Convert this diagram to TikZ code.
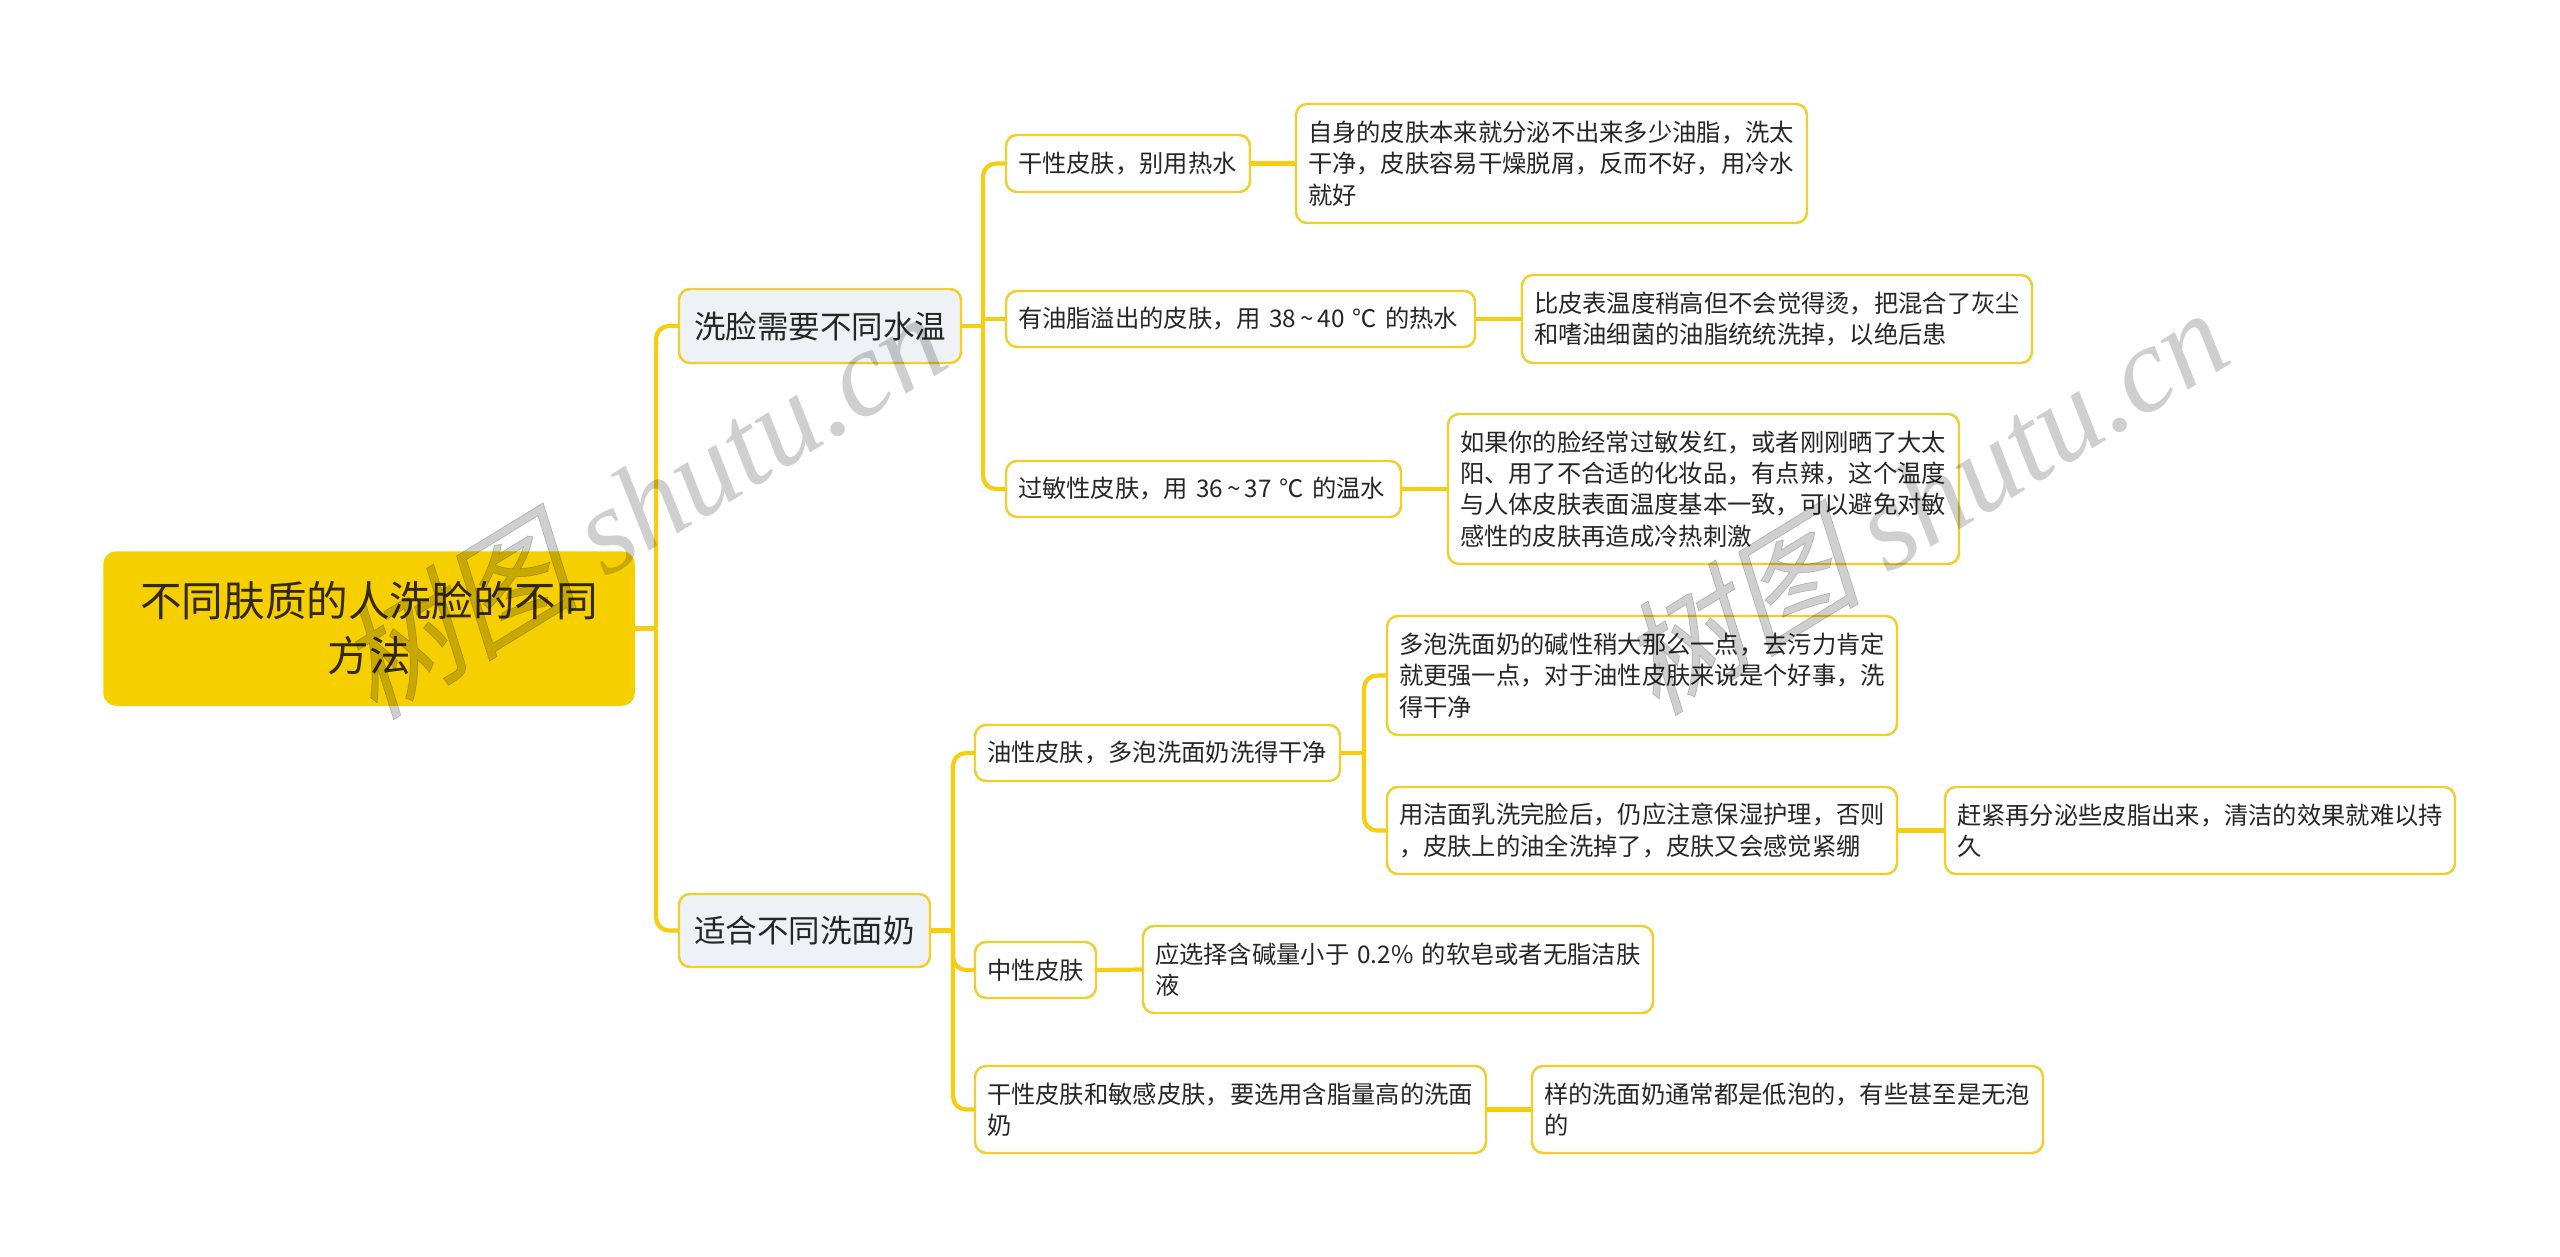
\documentclass[tikz,border=0pt]{standalone}
\usepackage{fontspec}
\setmainfont{Noto Sans CJK SC}
\newfontfamily\wmlatin{Liberation Serif}[ItalicFont=* Italic]
\newfontfamily\wmcjk[FakeSlant=0.25,FakeBold=0.6]{Noto Sans CJK SC}
\definecolor{linecol}{HTML}{F5CF0F}
\definecolor{edgecol}{HTML}{F1CE2A}
\definecolor{rootcol}{HTML}{F6CF00}
\definecolor{topiccol}{HTML}{EEF1F5}
\definecolor{inkcol}{HTML}{262626}
\definecolor{rootink}{HTML}{33290A}
\tikzset{
  rootbox/.style={rounded corners=12,fill=rootcol,draw=rootcol,line width=1.5,text=rootink,align=center,font=\fontsize{41.6}{55}\selectfont},
  topicbox/.style={rounded corners=11,fill=topiccol,draw=edgecol,line width=2.4,text=inkcol,align=center,font=\fontsize{31.5}{40}\selectfont},
  leafbox/.style={rounded corners=11,fill=white,draw=edgecol,line width=2.4,text=inkcol,align=left,font=\fontsize{24.3}{31.3}\selectfont},
  straightlink/.style={draw=linecol,line width=4.2},
  curvedlink/.style={draw=linecol,line width=4.2,rounded corners=13},
  wmark/.style={rotate=31.5,text=black,text opacity=0.19,inner sep=0}
}
% name, x1, y1, x2, y2, style, text
\newcommand{\boxat}[7]{%
  \node[#6,outer sep=0,inner sep=0,minimum width={#4-#2},minimum height={#5-#3},text width={#4-#2-24}]
    (#1) at ({(#2+#4)/2},{(#3+#5)/2}) {#7};}
\newcommand{\wmtext}{\fontsize{122}{122}\selectfont{\wmcjk 树图} {\wmlatin\itshape shutu.cn}}
\begin{document}
\begin{tikzpicture}[x=1pt,y=-1pt]
\useasboundingbox (0,0) rectangle (2560,1257);
\fill[white] (0,0) rectangle (2560,1257);

\boxat{root}{104}{552}{634}{705}{rootbox}{不同肤质的人洗脸的不同\\方法}
\boxat{tA}{679}{289}{961}{363}{topicbox}{洗脸需要不同水温}
\boxat{tB}{679}{894}{930}{967}{topicbox}{适合不同洗面奶}

\boxat{nA}{1006}{135}{1250}{192}{leafbox}{干性皮肤，别用热水}
\boxat{dA}{1296}{104}{1807}{223}{leafbox}{自身的皮肤本来就分泌不出来多少油脂，洗太\\干净，皮肤容易干燥脱屑，反而不好，用冷水\\就好}
\boxat{nB}{1006}{291}{1475}{347}{leafbox}{有油脂溢出的皮肤，用 38\,\textasciitilde\,40 ℃ 的热水}
\boxat{dB}{1522}{275}{2032}{363}{leafbox}{比皮表温度稍高但不会觉得烫，把混合了灰尘\\和嗜油细菌的油脂统统洗掉，以绝后患}
\boxat{nC}{1006}{461}{1401}{517}{leafbox}{过敏性皮肤，用 36\,\textasciitilde\,37 ℃ 的温水}
\boxat{dC}{1448}{414}{1959}{564}{leafbox}{如果你的脸经常过敏发红，或者刚刚晒了大太\\阳、用了不合适的化妆品，有点辣，这个温度\\与人体皮肤表面温度基本一致，可以避免对敏\\感性的皮肤再造成冷热刺激}

\boxat{oA}{975}{725}{1340}{781}{leafbox}{油性皮肤，多泡洗面奶洗得干净}
\boxat{oAa}{1387}{616}{1897}{735}{leafbox}{多泡洗面奶的碱性稍大那么一点，去污力肯定\\就更强一点，对于油性皮肤来说是个好事，洗\\得干净}
\boxat{oAb}{1387}{787}{1897}{874}{leafbox}{用洁面乳洗完脸后，仍应注意保湿护理，否则\\，皮肤上的油全洗掉了，皮肤又会感觉紧绷}
\boxat{oAc}{1945}{787}{2455}{874}{leafbox}{赶紧再分泌些皮脂出来，清洁的效果就难以持\\久}
\boxat{oB}{975}{942}{1096}{998}{leafbox}{中性皮肤}
\boxat{oBa}{1143}{926}{1653}{1013}{leafbox}{应选择含碱量小于 0.2\% 的软皂或者无脂洁肤\\液}
\boxat{oC}{975}{1066}{1486}{1153}{leafbox}{干性皮肤和敏感皮肤，要选用含脂量高的洗面\\奶}
\boxat{oCa}{1532}{1066}{2043}{1153}{leafbox}{样的洗面奶通常都是低泡的，有些甚至是无泡\\的}

\coordinate (jR) at (656,628.5);
\coordinate (jA) at (983,326);
\coordinate (jB) at (953,930.5);
\coordinate (jO) at (1364,753);

\draw[straightlink] (root.east) -- (jR);
\draw[curvedlink] (jR) |- (tA.west);
\draw[curvedlink] (jR) |- (tB.west);
\draw[straightlink] (tA.east) -- (jA);
\draw[curvedlink] (jA) |- (nA.west);
\draw[straightlink] (jA) |- (nB.west);
\draw[curvedlink] (jA) |- (nC.west);
\draw[straightlink] (nA.east) -- (dA.west);
\draw[straightlink] (nB.east) -- (dB.west);
\draw[straightlink] (nC.east) -- (dC.west);
\draw[straightlink] (tB.east) -- (jB);
\draw[curvedlink] (jB) |- (oA.west);
\draw[curvedlink] (jB) |- (oB.west);
\draw[curvedlink] (jB) |- (oC.west);
\draw[straightlink] (oA.east) -- (jO);
\draw[curvedlink] (jO) |- (oAa.west);
\draw[curvedlink] (jO) |- (oAb.west);
\draw[straightlink] (oAb.east) -- (oAc.west);
\draw[straightlink] (oB.east) -- (oBa.west);
\draw[straightlink] (oC.east) -- (oCa.west);

\node[wmark] (wmA) at (640,503) {\wmtext};
\node[wmark] (wmB) at (1922,499) {\wmtext};
\end{tikzpicture}
\end{document}
